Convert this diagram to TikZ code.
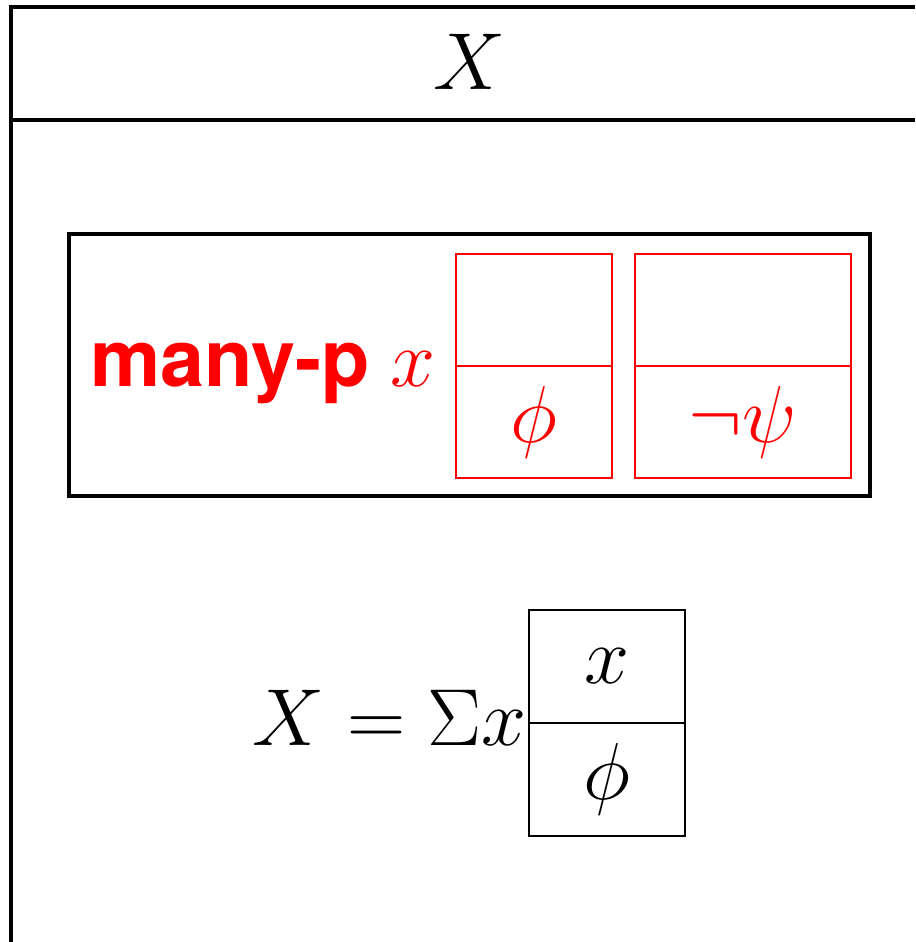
\RequirePackage{fix-cm}
\documentclass[tikz,border=0pt]{standalone}
\usepackage[no-math]{fontspec}
\newfontfamily\quantsans{TeX Gyre Heros}
\usepackage{tikz}
\usetikzlibrary{positioning}

\begin{document}
\begin{tikzpicture}[x=0.02cm, y=-0.02cm,
    font=\fontsize{46}{52}\selectfont,
    txt/.style={inner sep=0pt},
    frame/.style={line width=1.9pt},
    quant/.style={draw, line width=2.5pt, minimum width=16.02cm, minimum height=5.24cm, inner sep=0pt},
    rcell/.style={draw=red, line width=1.2pt, minimum height=2.24cm, inner sep=0pt, text=red},
    bcell/.style={draw, line width=1.6pt, minimum width=3.12cm, minimum height=2.26cm, inner sep=0pt}]
    \useasboundingbox (0,0) rectangle (915,942);
    \coordinate (tl) at (11,7);
    \coordinate (bl) at (11,942);
    \coordinate (tr) at (915,7);
    \coordinate (ml) at (11,120);
    \coordinate (mr) at (915,120);
    \draw[frame] (bl) -- (tl) -- (tr);
    \draw[frame] (ml) -- (mr);
    \node[txt] (hdr) at (470,62) {$X$};
    \node[quant] (box) at (469.5,365) {};
    \node[txt, anchor=base west, text=red] (many) at (90,386) {\fontsize{45}{52}\quantsans\bfseries many-p};
    \node[txt, anchor=base, text=red] (var) at (413,386) {$x$};
    \node[rcell, minimum width=3.12cm] (a1) at (534,310) {};
    \node[rcell, minimum width=3.12cm] (a2) at (534,422) {$\phi$};
    \node[rcell, minimum width=4.32cm] (b1) at (743,310) {};
    \node[rcell, minimum width=4.32cm] (b2) at (743,422) {$\neg\psi$};
    \node[bcell] (c1) at (607,666.5) {$x$};
    \node[bcell] (c2) at (607,779.5) {$\phi$};
    \node[txt, anchor=base east] (eqn) at (527,745) {$X=\Sigma x$};
\end{tikzpicture}
\end{document}
